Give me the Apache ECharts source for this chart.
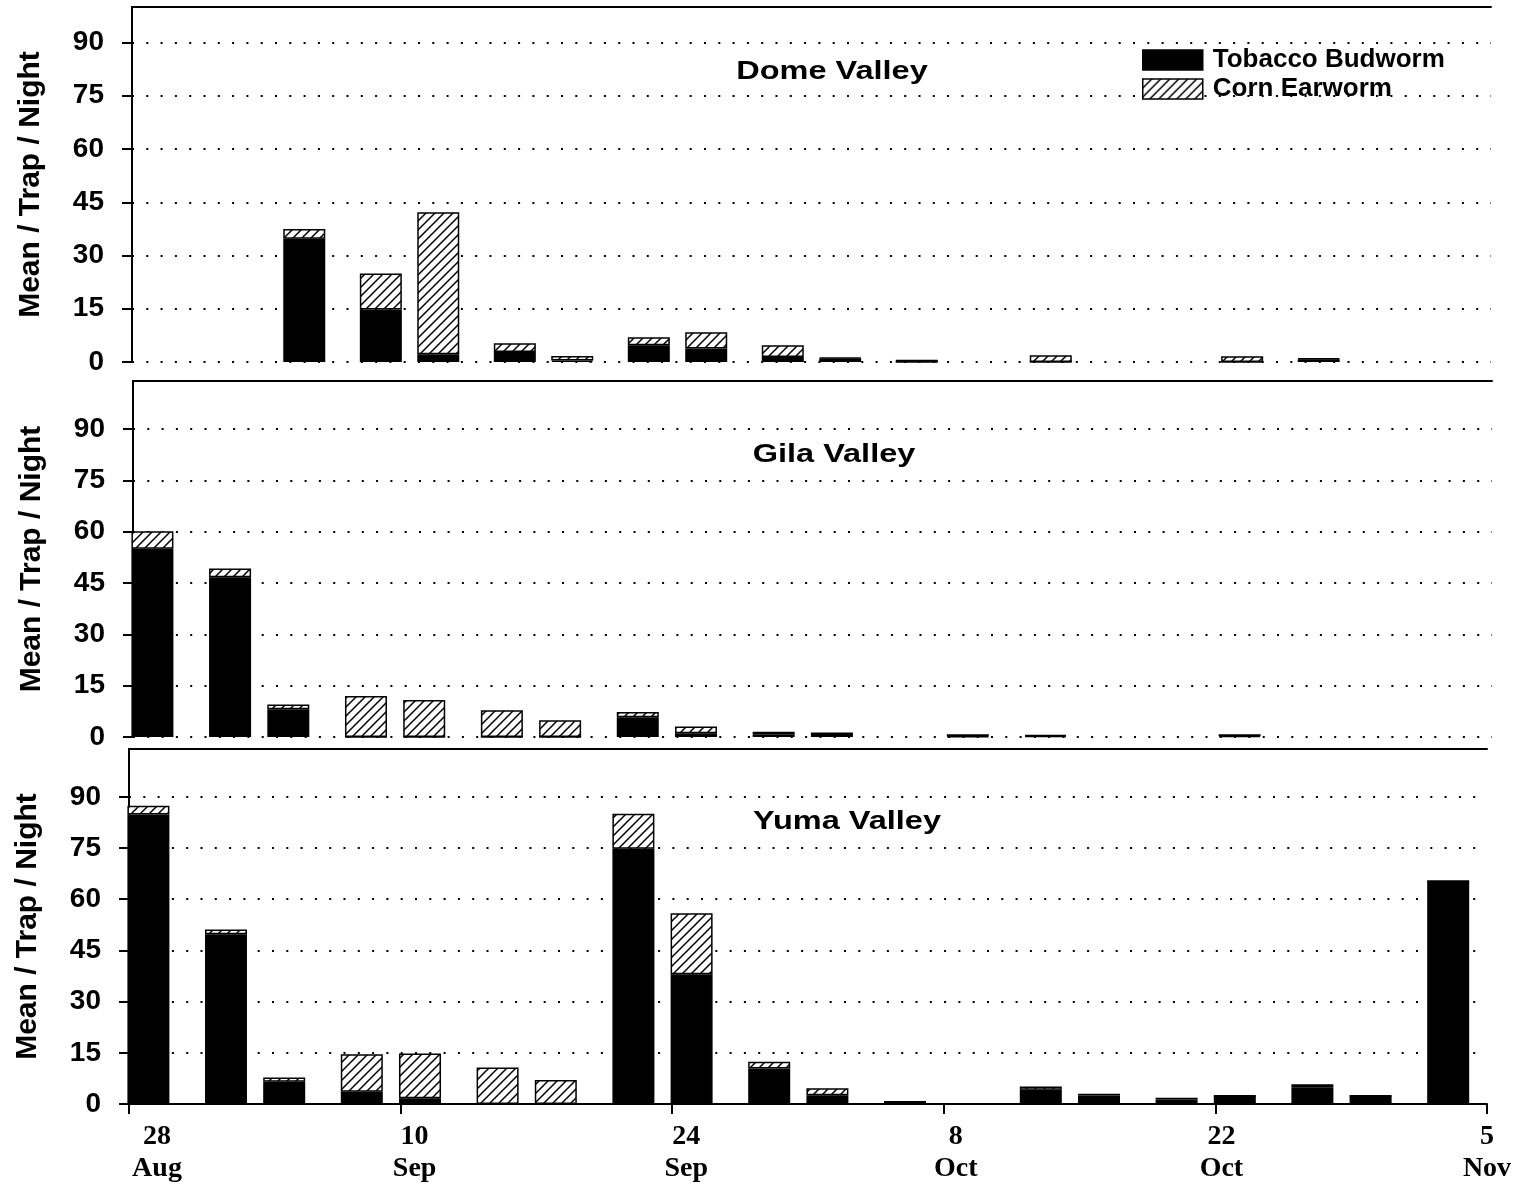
<!DOCTYPE html>
<html>
<head>
<meta charset="utf-8">
<script src="https://cdn.jsdelivr.net/npm/echarts@6/dist/echarts.min.js"></script>
<style>
html,body{margin:0;padding:0;background:#fff;}
#chart{width:1524px;height:1187px;}
</style>
</head>
<body>
<div id="chart"></div>
<script>
// ---- data (x = days after 28 Aug) ----
const seriesNames = ['Tobacco Budworm', 'Corn Earworm'];
const panelTitles = ['Dome Valley', 'Gila Valley', 'Yuma Valley'];
const yAxisTitle = 'Mean / Trap / Night';
const tickLabels = ['28\nAug', '10\nSep', '24\nSep', '8\nOct', '22\nOct', '5\nNov'];
const yTickValues = [0, 15, 30, 45, 60, 75, 90];

const domeDays = [9, 13, 16, 20, 23, 27, 30, 34, 37, 41, 48, 58, 62];
const domeBudworm = [34.7, 14.8, 2.2, 2.8, 0.4, 4.7, 3.8, 1.4, 1.0, 0, 0, 0, 0.8];
const domeEarworm = [2.8, 10.1, 40.0, 2.5, 1.3, 2.3, 4.6, 3.3, 0.2, 0.6, 1.9, 1.6, 0.2];

const gilaDays = [1, 5, 8, 12, 15, 19, 22, 26, 29, 33, 36, 43, 47, 57];
const gilaBudworm = [55.0, 46.7, 8.1, 0, 0, 0, 0, 5.8, 1.1, 0.8, 1.1, 0.2, 0.3, 0.3];
const gilaEarworm = [5.1, 2.5, 1.4, 12.0, 10.8, 7.8, 4.9, 1.5, 2.0, 0.7, 0, 0.6, 0.3, 0.5];

const yumaDays = [1, 5, 8, 12, 15, 19, 22, 26, 29, 33, 36, 40, 47, 50, 54, 57, 61, 64, 68];
const yumaBudworm = [84.8, 49.7, 6.5, 3.6, 1.7, 0, 0, 74.8, 38.0, 10.4, 2.6, 0, 4.2, 2.5, 1.3, 2.4, 4.9, 2.4, 65.3];
const yumaEarworm = [2.6, 1.4, 1.3, 11.0, 13.1, 10.7, 7.0, 10.2, 17.9, 2.0, 2.0, 0.9, 0.9, 0.5, 0.55, 0, 0.85, 0, 0];

// ---- styling ----
const SANS = '"Liberation Sans", Arial, Helvetica, sans-serif';
const SERIF = '"Liberation Serif", "Times New Roman", serif';

function makeHatch() {
  const s = 9;
  const c = document.createElement('canvas');
  c.width = s; c.height = s;
  const g = c.getContext('2d');
  g.fillStyle = '#fff';
  g.fillRect(0, 0, s, s);
  g.strokeStyle = '#000';
  g.lineWidth = 1.5;
  g.beginPath();
  g.moveTo(-s, 2 * s); g.lineTo(2 * s, -s);
  g.moveTo(-s, s); g.lineTo(s, -s);
  g.moveTo(0, 2 * s); g.lineTo(2 * s, 0);
  g.stroke();
  return c;
}
const hatch = { image: makeHatch(), repeat: 'repeat' };

const panels = [
  { days: domeDays, tbw: domeBudworm, cew: domeEarworm, grid: { left: 132, right: 33, top: 7, height: 355 }, xMax: 71, yMax: 100, bottom: false, title: [832, 72] },
  { days: gilaDays, tbw: gilaBudworm, cew: gilaEarworm, grid: { left: 133, right: 32, top: 381, height: 356 }, xMax: 70, yMax: 104, bottom: false, title: [834, 455] },
  { days: yumaDays, tbw: yumaBudworm, cew: yumaEarworm, grid: { left: 129, right: 37, top: 749, height: 355 }, xMax: 70, yMax: 104, bottom: true, title: [847, 822] }
];

const labelOffsets = [28, 14, 14, 12, 6, 0];
const rich = {};
labelOffsets.forEach((o, i) => {
  rich['o' + i] = { fontFamily: SERIF, fontWeight: 'bold', fontSize: 28, lineHeight: 32, color: '#000', padding: [0, 0, 0, 2 * o] };
});

const grids = [], xAxes = [], yAxes = [], series = [], graphics = [];
panels.forEach((p, i) => {
  grids.push(p.grid);
  xAxes.push({
    type: 'value', gridIndex: i, min: 0, max: p.xMax, interval: 14, position: 'bottom',
    axisLine: { show: p.bottom, onZero: false, lineStyle: { color: '#000', width: 2 } },
    axisTick: { show: p.bottom, length: 10, lineStyle: { color: '#000', width: 2 } },
    axisLabel: {
      show: p.bottom, margin: 17,
      formatter: v => {
        const k = Math.round(v / 14);
        const parts = (tickLabels[k] || '').split('\n');
        return parts.map(t => '{o' + k + '|' + t + '}').join('\n');
      },
      rich: rich
    },
    splitLine: { show: false }
  });
  xAxes.push({
    type: 'value', gridIndex: i, min: 0, max: p.xMax, position: 'top',
    axisLine: { show: true, onZero: false, lineStyle: { color: '#000', width: 2 } },
    axisTick: { show: false }, axisLabel: { show: false }, splitLine: { show: false }
  });
  yAxes.push({
    type: 'value', gridIndex: i, min: 0, max: p.yMax, interval: 15, position: 'left',
    name: yAxisTitle, nameLocation: 'middle', nameGap: 86,
    nameTextStyle: { fontFamily: SANS, fontWeight: 'bold', fontSize: 30, color: '#000' },
    axisLine: { show: true, lineStyle: { color: '#000', width: 2 } },
    axisTick: { show: true, length: 10, customValues: yTickValues, lineStyle: { color: '#000', width: 2 } },
    axisLabel: {
      margin: 28, customValues: yTickValues,
      formatter: v => (v <= 90 ? String(v) : ''),
      fontFamily: SANS, fontWeight: 'bold', fontSize: 28, color: '#000'
    },
    splitLine: { show: true, lineStyle: { color: '#000', width: 2, type: [2, 12.3] } }
  });
  yAxes.push({
    type: 'value', gridIndex: i, min: 0, max: p.yMax, position: 'right',
    axisLine: { show: true, lineStyle: { color: '#000', width: 2 } },
    axisTick: { show: false }, axisLabel: { show: false }, splitLine: { show: false }
  });
  // value first, day second: so the library stacks the counts (by index)
  series.push({
    name: seriesNames[0], type: 'bar', xAxisIndex: i * 2, yAxisIndex: i * 2, stack: 'p' + i,
    dimensions: ['count', 'day'], encode: { x: 'day', y: 'count' },
    barWidth: 42, data: p.days.map((d, j) => [p.tbw[j], d]),
    itemStyle: { color: '#000', borderColor: '#000', borderWidth: 1.5 }
  });
  series.push({
    name: seriesNames[1], type: 'bar', xAxisIndex: i * 2, yAxisIndex: i * 2, stack: 'p' + i,
    dimensions: ['count', 'day'], encode: { x: 'day', y: 'count' },
    barWidth: 42, data: p.days.map((d, j) => [p.cew[j], d]),
    itemStyle: { color: hatch, borderColor: '#000', borderWidth: 1.5 }
  });
  graphics.push({
    type: 'text', x: p.title[0], y: p.title[1], scaleX: 1.25,
    style: { text: panelTitles[i], font: 'bold 26px ' + SANS, fill: '#000', textAlign: 'center', textVerticalAlign: 'middle' }
  });
});

const chart = echarts.init(document.getElementById('chart'), null, { renderer: 'canvas' });
chart.setOption({
  animation: false,
  backgroundColor: '#fff',
  grid: grids,
  xAxis: xAxes,
  yAxis: yAxes,
  legend: {
    orient: 'vertical', left: 1142, top: 47, itemWidth: 60, itemHeight: 20, itemGap: 3,
    icon: 'rect', selectedMode: false, padding: 0,
    textStyle: { fontFamily: SANS, fontWeight: 'bold', fontSize: 26, color: '#000', padding: [0, 0, 0, 5] },
    data: [
      { name: seriesNames[0], itemStyle: { color: '#000', borderColor: '#000', borderWidth: 1.5 } },
      { name: seriesNames[1], itemStyle: { color: hatch, borderColor: '#000', borderWidth: 1.5 } }
    ]
  },
  graphic: graphics,
  series: series
});
</script>
</body>
</html>
